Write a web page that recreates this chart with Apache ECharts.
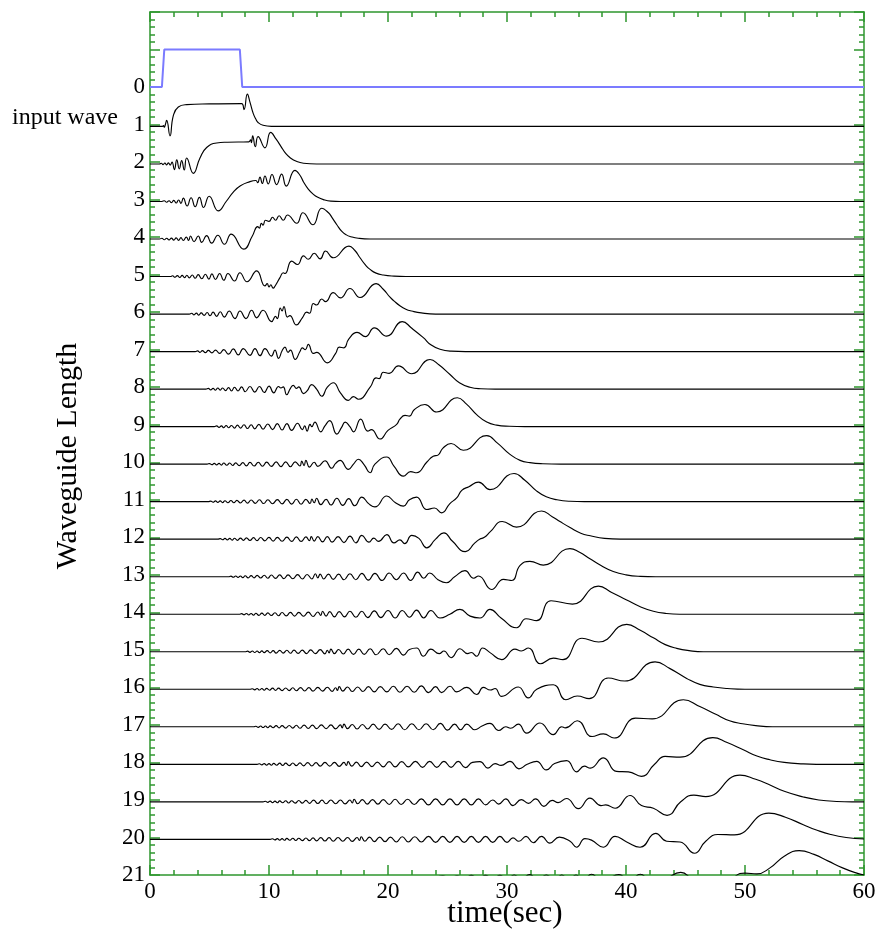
<!DOCTYPE html>
<html><head><meta charset="utf-8">
<script src="https://cdn.jsdelivr.net/npm/echarts@6/dist/echarts.min.js"></script>
<style>html,body{margin:0;padding:0;background:#fff}#c{width:881px;height:932px}</style>
</head><body><div id="c"></div>
<script>
// x (time) ticks and y (waveguide length) levels
const xTicks = [0,10,20,30,40,50,60];
const yLevels = [0,1,2,3,4,5,6,7,8,9,10,11,12,13,14,15,16,17,18,19,20,21];
const baseShift = 0.05;           // traces sit slightly below their level
// input wave: [time, amplitude]
const inputWave = [[0,0],[1.0,0],[1.2,1],[7.55,1],[7.75,0],[60,0]];
// each trace: [time, upward displacement in level units]
const trace1 = [[0,0],[1.05,0],[1.12,0.02],[1.2,-0.02],[1.28,0.04],[1.4,0.16],[1.68,-0.25],[1.96,0.29],[2.38,0.52],[3.08,0.58],[5,0.6],[7.7,0.61],[7.9,0.45],[8.18,0.86],[8.4,0.65],[8.68,0.34],[8.9,0.19],[9.1,0.1],[9.5,0.03],[10.2,0],[60,0]];
const trace2 = [[0,0],[0.8,0],[0.95,0.02],[1.1,-0.02],[1.25,0.025],[1.4,-0.025],[1.55,0.03],[1.7,-0.03],[1.85,0.05],[2.05,-0.15],[2.25,0.11],[2.46,-0.13],[2.66,0.09],[2.88,-0.16],[3.08,0.16],[3.64,-0.25],[4.2,0.16],[4.76,0.44],[5.6,0.56],[6.5,0.58],[8.3,0.59],[8.45,0.64],[8.52,0.57],[8.63,0.75],[8.85,0.46],[9.08,0.73],[9.66,0.43],[10.14,0.84],[10.6,0.66],[11.0,0.47],[11.4,0.28],[11.8,0.16],[12.3,0.07],[12.9,0.02],[14,0],[60,0]];
const trace3 = [[0,0],[1.0,0],[1.2,0.02],[1.4,-0.02],[1.6,0.02],[1.8,-0.03],[2.0,0.03],[2.2,-0.04],[2.4,0.04],[2.6,-0.05],[2.8,0.09],[3.12,-0.12],[3.45,0.1],[3.8,-0.14],[4.15,0.11],[4.5,-0.16],[4.97,0.14],[5.74,-0.25],[6.4,0.0],[7.0,0.25],[7.6,0.42],[8.4,0.53],[8.9,0.56],[9.05,0.5],[9.24,0.65],[9.44,0.48],[9.66,0.68],[9.94,0.47],[10.25,0.72],[10.64,0.45],[11.06,0.73],[11.45,0.41],[12.18,0.83],[12.6,0.7],[12.9,0.52],[13.3,0.33],[13.73,0.19],[14.1,0.11],[14.57,0.05],[15.2,0.01],[16,0],[60,0]];
const trace4 = [[0,0],[0.8,0],[1.0,0.02],[1.2,-0.02],[1.4,0.02],[1.6,-0.025],[1.8,0.025],[2.0,-0.03],[2.2,0.03],[2.4,-0.035],[2.6,0.035],[2.8,-0.04],[3.05,0.05],[3.25,-0.04],[3.4,0.08],[3.7,-0.07],[4.06,0.08],[4.34,-0.09],[4.76,0.09],[5.18,-0.11],[5.7,0.1],[6.25,-0.14],[6.82,0.13],[7.88,-0.27],[8.6,0.08],[9.05,0.33],[9.2,0.29],[9.35,0.42],[9.5,0.37],[9.7,0.5],[10.0,0.47],[10.3,0.58],[10.55,0.5],[10.85,0.62],[11.2,0.5],[11.55,0.64],[12.33,0.42],[12.85,0.7],[13.7,0.38],[14.43,0.82],[15.0,0.7],[15.3,0.57],[15.7,0.38],[16.1,0.21],[16.5,0.11],[16.9,0.06],[17.5,0.02],[18.5,0],[60,0]];
const trace5 = [[0,0],[1.7,0],[1.9,0.02],[2.1,-0.02],[2.3,0.025],[2.5,-0.025],[2.7,0.03],[2.9,-0.03],[3.1,0.035],[3.3,-0.035],[3.55,0.04],[3.8,-0.045],[4.05,0.05],[4.35,-0.06],[4.65,0.06],[4.95,-0.07],[5.2,0.07],[5.5,-0.08],[5.85,0.08],[6.2,-0.1],[6.55,0.08],[7.1,-0.12],[7.55,0.1],[8.15,-0.14],[8.96,0.15],[9.66,-0.25],[9.85,-0.19],[10.0,-0.28],[10.15,-0.22],[10.35,-0.31],[10.5,-0.26],[10.92,-0.03],[11.2,0.1],[11.35,0.08],[11.9,0.41],[12.4,0.32],[12.9,0.55],[13.3,0.46],[13.8,0.62],[14.3,0.47],[14.75,0.68],[15.4,0.5],[16.72,0.81],[17.2,0.7],[17.65,0.5],[18.1,0.31],[18.49,0.19],[19.0,0.09],[19.6,0.04],[20.5,0.01],[21.5,0],[60,0]];
const trace6 = [[0,0],[3.3,0],[3.5,0.02],[3.7,-0.02],[3.9,0.025],[4.1,-0.03],[4.3,0.03],[4.55,-0.035],[4.8,0.04],[5.05,-0.045],[5.3,0.05],[5.6,-0.06],[5.9,0.06],[6.25,-0.08],[6.65,0.08],[7.14,-0.12],[7.56,0.08],[8.06,-0.12],[8.54,0.1],[8.96,-0.1],[9.5,0.1],[10.22,-0.2],[10.55,-0.06],[10.7,-0.12],[10.95,0.16],[11.1,0.08],[11.25,0.2],[11.55,-0.08],[11.75,-0.04],[12.3,-0.29],[12.8,-0.1],[13.17,0.05],[13.4,0.02],[13.73,0.28],[14.0,0.24],[14.43,0.4],[14.75,0.33],[15.4,0.57],[16.0,0.43],[16.8,0.68],[17.65,0.44],[19.0,0.81],[19.6,0.66],[20.17,0.45],[20.5,0.35],[21.0,0.22],[21.5,0.13],[22.0,0.08],[22.8,0.03],[24,0],[60,0]];
const trace7 = [[0,0],[3.8,0],[4.0,0.02],[4.2,-0.02],[4.4,0.025],[4.65,-0.03],[4.9,0.03],[5.2,-0.035],[5.5,0.04],[5.85,-0.05],[6.2,0.05],[6.6,-0.07],[7.0,0.07],[7.42,-0.09],[7.84,0.08],[8.4,-0.1],[8.82,0.08],[9.24,-0.11],[9.66,0.08],[10.2,-0.12],[10.5,0.04],[10.8,-0.18],[11.1,0.02],[11.34,0.12],[11.6,-0.02],[11.8,0.04],[12.2,-0.21],[12.6,0.0],[12.8,0.1],[13.05,0.05],[13.3,0.19],[13.73,-0.05],[14.0,-0.02],[14.9,-0.3],[15.6,-0.05],[15.9,0.12],[16.3,0.1],[16.7,0.33],[17.4,0.51],[18.1,0.4],[18.85,0.63],[19.89,0.41],[21.2,0.8],[22.0,0.62],[22.97,0.37],[23.6,0.18],[24.37,0.06],[25.3,0.01],[26.5,0],[60,0]];
const trace8 = [[0,0],[4.7,0],[4.9,0.02],[5.1,-0.02],[5.3,0.02],[5.5,-0.03],[5.7,0.03],[5.9,-0.03],[6.1,0.03],[6.35,-0.04],[6.6,0.04],[6.85,-0.05],[7.1,0.05],[7.4,-0.05],[7.7,0.06],[8.0,-0.07],[8.4,0.07],[8.8,-0.08],[9.2,0.07],[9.6,-0.09],[10.0,0.08],[10.4,-0.1],[10.8,0.07],[11.0,0.03],[11.2,0.06],[11.48,-0.15],[11.8,0.02],[12.04,0.1],[12.3,0.02],[12.5,0.06],[12.9,-0.12],[13.2,-0.05],[13.59,0.12],[14.0,0.0],[14.43,-0.19],[14.9,0.05],[15.41,0.17],[16.0,-0.1],[16.67,-0.3],[17.1,-0.2],[17.51,-0.27],[18.5,0.05],[19.0,0.3],[19.25,0.28],[19.6,0.45],[20.1,0.42],[20.87,0.62],[21.99,0.41],[23.53,0.79],[24.3,0.64],[25.21,0.39],[26.0,0.17],[26.89,0.05],[27.8,0.01],[29,0],[60,0]];
const trace9 = [[0,0],[5.4,0],[5.6,0.02],[5.8,-0.02],[6.0,0.02],[6.2,-0.03],[6.4,0.03],[6.6,-0.03],[6.85,0.03],[7.1,-0.04],[7.35,0.04],[7.6,-0.04],[7.9,0.05],[8.2,-0.05],[8.5,0.05],[8.8,-0.06],[9.15,0.06],[9.5,-0.07],[9.9,0.07],[10.3,-0.08],[10.7,0.08],[11.1,-0.09],[11.5,0.08],[11.9,-0.1],[12.4,0.09],[12.8,-0.08],[13.0,0.02],[13.2,-0.12],[13.45,0.06],[13.6,0.0],[13.85,0.12],[14.35,-0.14],[14.7,0.02],[15.1,0.16],[15.7,-0.2],[16.1,-0.02],[16.4,0.12],[16.8,0.0],[17.1,-0.14],[17.7,0.2],[18.3,-0.12],[18.6,-0.08],[19.33,-0.33],[20.0,-0.1],[20.73,0.06],[21.0,0.2],[21.43,0.3],[21.8,0.28],[22.2,0.45],[23.1,0.59],[24.09,0.39],[25.83,0.77],[26.6,0.6],[27.45,0.32],[28.3,0.12],[29.13,0.04],[30.2,0.01],[31.5,0],[60,0]];
const trace10 = [[0,0],[4.8,0],[5.0,0.015],[5.2,-0.015],[5.4,0.02],[5.6,-0.02],[5.8,0.02],[6.0,-0.025],[6.2,0.03],[6.45,-0.03],[6.7,0.03],[6.95,-0.035],[7.2,0.035],[7.5,-0.04],[7.8,0.04],[8.1,-0.045],[8.4,0.045],[8.75,-0.05],[9.1,0.05],[9.45,-0.055],[9.8,0.055],[10.2,-0.06],[10.6,0.06],[11.0,-0.065],[11.4,0.06],[11.8,-0.07],[12.2,0.06],[12.6,-0.05],[12.75,0.08],[12.95,-0.04],[13.1,0.1],[13.4,-0.08],[13.8,0.05],[14.1,-0.06],[14.71,0.09],[15.27,-0.11],[15.6,0.02],[15.97,0.1],[16.67,-0.14],[17.1,0.0],[17.51,0.13],[18.0,-0.02],[18.49,-0.23],[18.9,0.0],[19.89,0.19],[20.5,-0.05],[21.29,-0.32],[21.9,-0.2],[22.4,-0.23],[23.25,0.05],[23.8,0.21],[24.2,0.24],[24.6,0.42],[25.3,0.55],[26.33,0.37],[28.29,0.76],[29.2,0.56],[30.25,0.26],[31.1,0.1],[31.93,0.04],[33,0.01],[34.5,0],[60,0]];
const trace11 = [[0,0],[4.9,0],[5.1,0.015],[5.3,-0.015],[5.5,0.02],[5.7,-0.02],[5.9,0.02],[6.1,-0.025],[6.3,0.025],[6.55,-0.03],[6.8,0.03],[7.05,-0.03],[7.3,0.035],[7.6,-0.035],[7.9,0.04],[8.2,-0.04],[8.5,0.045],[8.85,-0.045],[9.2,0.05],[9.55,-0.05],[9.9,0.05],[10.3,-0.055],[10.7,0.055],[11.1,-0.06],[11.5,0.06],[11.9,-0.065],[12.3,0.065],[12.7,-0.07],[13.1,0.06],[13.45,-0.05],[13.6,0.07],[13.8,-0.03],[14.0,0.09],[14.35,-0.08],[14.8,0.06],[15.2,-0.09],[15.7,0.09],[16.2,-0.1],[16.7,0.08],[17.2,-0.11],[17.8,0.12],[18.4,-0.06],[18.9,-0.14],[19.89,0.15],[20.6,-0.02],[21.29,-0.12],[21.8,0.05],[22.4,0.12],[23.25,-0.21],[23.9,-0.17],[24.5,-0.3],[25.2,-0.05],[25.77,0.1],[26.2,0.3],[26.8,0.4],[27.6,0.52],[28.57,0.32],[30.59,0.75],[31.5,0.57],[32.5,0.28],[33.3,0.13],[34.2,0.05],[35.3,0.01],[36.5,0],[60,0]];
const trace12 = [[0,0],[5.7,0],[5.9,0.015],[6.1,-0.015],[6.3,0.02],[6.5,-0.02],[6.7,0.02],[6.9,-0.025],[7.1,0.025],[7.35,-0.03],[7.6,0.03],[7.85,-0.03],[8.1,0.035],[8.4,-0.035],[8.7,0.04],[9.0,-0.04],[9.3,0.045],[9.65,-0.045],[10.0,0.05],[10.35,-0.05],[10.7,0.05],[11.1,-0.055],[11.5,0.055],[11.9,-0.06],[12.3,0.06],[12.7,-0.06],[13.1,0.06],[13.4,-0.04],[13.55,0.07],[13.8,-0.05],[14.1,0.07],[14.5,-0.07],[14.9,0.07],[15.3,-0.08],[15.8,0.07],[16.3,-0.09],[16.8,0.08],[17.3,-0.1],[17.8,0.1],[18.4,-0.08],[18.8,0.03],[19.2,-0.06],[19.9,0.12],[20.5,-0.1],[21.0,-0.02],[21.4,-0.12],[22.0,0.1],[22.6,0.02],[23.25,-0.23],[24.0,0.0],[24.7,0.17],[25.4,-0.05],[26.5,-0.33],[27.3,-0.1],[27.7,0.0],[28.1,0.05],[28.6,0.2],[29.6,0.47],[30.8,0.32],[32.91,0.75],[33.8,0.6],[34.45,0.47],[35.3,0.31],[36.2,0.16],[37.0,0.09],[38.2,0.02],[39.5,0],[60,0]];
const trace13 = [[0,0],[6.6,0],[6.8,0.015],[7.0,-0.015],[7.2,0.02],[7.4,-0.02],[7.6,0.02],[7.8,-0.025],[8.0,0.025],[8.25,-0.03],[8.5,0.03],[8.75,-0.03],[9.0,0.035],[9.3,-0.035],[9.6,0.04],[9.9,-0.04],[10.2,0.045],[10.55,-0.045],[10.9,0.05],[11.25,-0.05],[11.6,0.05],[12.0,-0.055],[12.4,0.055],[12.8,-0.06],[13.2,0.06],[13.6,-0.06],[13.9,0.08],[14.1,-0.03],[14.3,0.07],[14.6,-0.06],[15.0,0.07],[15.4,-0.07],[15.85,0.07],[16.3,-0.08],[16.8,0.08],[17.3,-0.08],[17.8,0.09],[18.35,-0.09],[18.9,0.09],[19.5,-0.1],[20.1,0.1],[20.7,-0.08],[21.3,0.1],[21.9,-0.1],[22.5,0.12],[23.0,-0.04],[23.5,0.1],[24.2,-0.08],[24.9,-0.16],[25.6,0.0],[26.47,0.16],[27.2,-0.04],[27.6,0.02],[28.71,-0.34],[29.7,-0.07],[30.4,-0.1],[31.1,0.3],[31.93,0.41],[33.05,0.31],[35.29,0.75],[36.1,0.65],[36.97,0.48],[37.9,0.3],[38.93,0.14],[40.0,0.05],[41.2,0.01],[42.5,0],[60,0]];
const trace14 = [[0,0],[7.5,0],[7.7,0.015],[7.9,-0.015],[8.1,0.02],[8.3,-0.02],[8.5,0.02],[8.7,-0.025],[8.9,0.025],[9.15,-0.03],[9.4,0.03],[9.65,-0.03],[9.9,0.035],[10.2,-0.035],[10.5,0.04],[10.8,-0.04],[11.1,0.045],[11.45,-0.045],[11.8,0.05],[12.15,-0.05],[12.5,0.05],[12.9,-0.055],[13.3,0.055],[13.7,-0.06],[14.1,0.06],[14.35,-0.03],[14.5,0.08],[14.8,-0.05],[15.1,0.07],[15.5,-0.07],[15.9,0.07],[16.35,-0.07],[16.8,0.08],[17.3,-0.08],[17.8,0.08],[18.3,-0.09],[18.85,0.09],[19.4,-0.09],[20.0,0.1],[20.6,-0.1],[21.2,0.1],[21.8,-0.08],[22.4,0.11],[23.0,-0.1],[23.6,0.1],[24.37,-0.1],[25.2,0.0],[26.05,0.13],[26.9,-0.05],[27.73,-0.1],[28.57,0.13],[29.5,-0.1],[30.81,-0.36],[31.6,-0.12],[32.49,-0.17],[33.7,0.36],[35.5,0.27],[37.68,0.75],[38.8,0.58],[40.06,0.38],[41.2,0.2],[42.3,0.08],[43.4,0.02],[44.5,0],[60,0]];
const trace15 = [[0,0],[8.0,0],[8.2,0.015],[8.4,-0.015],[8.6,0.02],[8.8,-0.02],[9.0,0.02],[9.2,-0.025],[9.4,0.025],[9.6,-0.025],[9.85,0.03],[10.1,-0.03],[10.35,0.03],[10.6,-0.035],[10.9,0.035],[11.2,-0.035],[11.5,0.04],[11.8,-0.04],[12.1,0.045],[12.45,-0.045],[12.8,0.045],[13.15,-0.05],[13.5,0.05],[13.9,-0.05],[14.3,0.055],[14.7,-0.055],[14.9,0.04],[15.05,-0.03],[15.2,0.07],[15.5,-0.05],[15.85,0.06],[16.25,-0.06],[16.65,0.07],[17.1,-0.07],[17.55,0.07],[18.0,-0.07],[18.5,0.08],[19.0,-0.08],[19.6,0.08],[20.1,-0.08],[20.7,0.09],[21.3,-0.09],[21.8,0.06],[22.41,0.1],[22.97,-0.12],[23.6,0.07],[24.3,-0.05],[24.7,0.02],[25.3,-0.16],[26.05,0.08],[26.7,-0.05],[27.0,-0.02],[27.45,-0.12],[27.95,0.1],[28.6,-0.03],[29.55,-0.21],[30.67,0.07],[31.2,0.02],[31.8,0.1],[32.8,-0.32],[33.9,-0.17],[34.7,-0.21],[36.3,0.36],[37.7,0.26],[40.06,0.73],[41.2,0.57],[42.3,0.37],[43.3,0.19],[44.26,0.09],[45.3,0.03],[46.5,0],[60,0]];
const trace16 = [[0,0],[8.4,0],[8.6,0.015],[8.8,-0.015],[9.0,0.02],[9.2,-0.02],[9.4,0.02],[9.6,-0.025],[9.8,0.025],[10.05,-0.025],[10.3,0.03],[10.55,-0.03],[10.8,0.03],[11.1,-0.035],[11.4,0.035],[11.7,-0.035],[12.0,0.04],[12.3,-0.04],[12.65,0.045],[13.0,-0.045],[13.35,0.045],[13.7,-0.05],[14.1,0.05],[14.5,-0.05],[14.9,0.055],[15.3,-0.055],[15.6,0.04],[15.75,-0.03],[15.9,0.07],[16.2,-0.05],[16.6,0.06],[17.0,-0.06],[17.45,0.06],[17.9,-0.06],[18.35,0.07],[18.85,-0.07],[19.35,0.07],[19.9,-0.07],[20.45,0.08],[21.0,-0.08],[21.6,0.08],[22.2,-0.08],[22.8,0.09],[23.4,-0.09],[24.0,0.07],[24.5,-0.09],[25.21,0.08],[25.77,-0.07],[26.61,0.05],[27.45,-0.14],[28.01,0.05],[28.6,-0.02],[29.0,0.02],[29.55,-0.19],[30.95,0.06],[31.79,-0.23],[32.5,0.0],[33.89,0.12],[34.95,-0.28],[35.9,-0.18],[36.9,-0.25],[38.5,0.3],[39.9,0.22],[42.44,0.73],[43.7,0.55],[45.1,0.29],[46.2,0.13],[47.34,0.06],[48.5,0.02],[50,0],[60,0]];
const trace17 = [[0,0],[8.7,0],[8.9,0.015],[9.1,-0.015],[9.3,0.02],[9.5,-0.02],[9.7,0.02],[9.9,-0.025],[10.1,0.025],[10.35,-0.025],[10.6,0.03],[10.85,-0.03],[11.1,0.03],[11.4,-0.035],[11.7,0.035],[12.0,-0.035],[12.3,0.04],[12.6,-0.04],[12.95,0.045],[13.3,-0.045],[13.65,0.045],[14.0,-0.05],[14.4,0.05],[14.8,-0.05],[15.2,0.05],[15.6,-0.055],[16.0,0.05],[16.15,-0.03],[16.3,0.07],[16.6,-0.05],[17.0,0.06],[17.4,-0.06],[17.85,0.06],[18.3,-0.06],[18.75,0.07],[19.25,-0.07],[19.75,0.07],[20.3,-0.07],[20.85,0.08],[21.4,-0.08],[22.0,0.08],[22.6,-0.08],[23.2,0.08],[23.8,-0.08],[24.4,0.09],[25.0,-0.09],[25.6,0.07],[26.1,-0.08],[26.61,0.07],[27.3,-0.08],[27.9,0.02],[28.57,0.09],[29.3,-0.1],[29.9,0.0],[30.3,-0.04],[30.95,0.07],[31.65,-0.17],[32.77,0.1],[33.89,-0.21],[34.6,0.0],[34.9,-0.03],[35.9,0.16],[37.15,-0.26],[38.1,-0.19],[39.0,-0.3],[40.8,0.23],[42.2,0.21],[44.82,0.72],[46.2,0.54],[47.5,0.34],[48.7,0.16],[49.8,0.08],[50.9,0.03],[52.3,0],[60,0]];
const trace18 = [[0,0],[9.0,0],[9.2,0.015],[9.4,-0.015],[9.6,0.02],[9.8,-0.02],[10.0,0.02],[10.2,-0.025],[10.4,0.025],[10.65,-0.025],[10.9,0.03],[11.15,-0.03],[11.4,0.03],[11.7,-0.035],[12.0,0.035],[12.3,-0.035],[12.6,0.04],[12.9,-0.04],[13.25,0.045],[13.6,-0.045],[13.95,0.045],[14.3,-0.05],[14.7,0.05],[15.1,-0.05],[15.5,0.05],[15.9,-0.055],[16.3,0.05],[16.5,-0.03],[16.65,0.07],[16.95,-0.05],[17.35,0.06],[17.75,-0.06],[18.2,0.06],[18.65,-0.06],[19.1,0.06],[19.6,-0.07],[20.1,0.07],[20.6,-0.07],[21.15,0.07],[21.7,-0.07],[22.3,0.08],[22.9,-0.08],[23.5,0.08],[24.1,-0.08],[24.7,0.08],[25.3,-0.08],[25.9,0.08],[26.5,-0.09],[27.1,0.05],[27.73,0.07],[28.4,-0.1],[29.0,0.02],[29.5,-0.03],[30.25,0.08],[31.0,-0.12],[31.7,0.0],[32.49,0.08],[33.3,-0.15],[34.0,0.02],[35.01,0.1],[35.85,-0.2],[36.5,-0.05],[37.0,-0.1],[38.1,0.17],[39.2,-0.19],[40.2,-0.2],[41.3,-0.32],[42.4,0.0],[43.28,0.21],[44.54,0.19],[47.3,0.71],[48.5,0.58],[49.9,0.38],[51.0,0.22],[52.1,0.12],[53.3,0.05],[54.9,0.01],[56,0],[60,0]];
const trace19 = [[0,0],[9.5,0],[9.7,0.015],[9.9,-0.015],[10.1,0.02],[10.3,-0.02],[10.5,0.02],[10.7,-0.025],[10.9,0.025],[11.15,-0.025],[11.4,0.03],[11.65,-0.03],[11.9,0.03],[12.2,-0.035],[12.5,0.035],[12.8,-0.035],[13.1,0.04],[13.4,-0.04],[13.75,0.045],[14.1,-0.045],[14.45,0.045],[14.8,-0.05],[15.2,0.05],[15.6,-0.05],[16.0,0.05],[16.4,-0.055],[16.8,0.05],[17.0,-0.03],[17.15,0.07],[17.45,-0.05],[17.85,0.06],[18.25,-0.06],[18.7,0.06],[19.15,-0.06],[19.6,0.06],[20.1,-0.07],[20.6,0.07],[21.1,-0.07],[21.65,0.07],[22.2,-0.07],[22.8,0.08],[23.4,-0.08],[24.0,0.08],[24.6,-0.08],[25.2,0.08],[25.8,-0.08],[26.4,0.08],[27.0,-0.08],[27.6,0.08],[28.2,-0.08],[28.8,0.05],[29.3,-0.06],[29.9,0.08],[30.5,-0.1],[31.2,0.06],[31.8,-0.04],[32.4,0.08],[33.1,-0.12],[33.8,0.04],[34.3,-0.02],[35.0,0.09],[36.0,-0.18],[36.97,0.1],[37.9,-0.1],[38.3,-0.08],[39.08,-0.17],[40.34,0.17],[41.3,-0.1],[42.3,-0.17],[43.45,-0.36],[44.6,0.0],[45.7,0.18],[46.7,0.14],[49.58,0.71],[50.9,0.6],[52.1,0.45],[53.3,0.28],[54.9,0.13],[56.2,0.05],[57.7,0.01],[59,0],[60,0]];
const trace20 = [[0,0],[10.1,0],[10.3,0.015],[10.5,-0.015],[10.7,0.02],[10.9,-0.02],[11.1,0.02],[11.3,-0.025],[11.5,0.025],[11.75,-0.025],[12.0,0.03],[12.25,-0.03],[12.5,0.03],[12.8,-0.035],[13.1,0.035],[13.4,-0.035],[13.7,0.04],[14.0,-0.04],[14.35,0.045],[14.7,-0.045],[15.05,0.045],[15.4,-0.05],[15.8,0.05],[16.2,-0.05],[16.6,0.05],[17.0,-0.055],[17.4,0.05],[17.6,-0.03],[17.75,0.07],[18.05,-0.05],[18.45,0.06],[18.85,-0.06],[19.3,0.06],[19.75,-0.06],[20.2,0.06],[20.7,-0.07],[21.2,0.07],[21.7,-0.07],[22.25,0.07],[22.8,-0.07],[23.4,0.08],[24.0,-0.08],[24.6,0.08],[25.2,-0.08],[25.8,0.08],[26.4,-0.08],[27.0,0.08],[27.6,-0.08],[28.2,0.08],[28.8,-0.08],[29.4,0.08],[30.0,-0.08],[30.5,0.04],[31.0,-0.05],[31.6,0.08],[32.2,-0.09],[32.9,0.08],[33.6,-0.1],[34.4,0.06],[35.3,-0.05],[35.85,-0.21],[36.55,0.02],[37.1,-0.02],[38.1,-0.21],[39.08,0.08],[40.06,-0.07],[41.18,-0.21],[42.5,0.16],[43.42,-0.05],[44.54,-0.07],[45.75,-0.37],[46.7,-0.05],[47.7,0.13],[49.1,0.12],[52.0,0.70],[53.4,0.59],[54.9,0.39],[56.0,0.25],[57.2,0.13],[58.5,0.05],[60,0.01]];
const trace21 = [[0,0],[24.0,0],[24.6,0.03],[25.2,-0.05],[25.8,0.03],[26.4,-0.05],[27.0,0.04],[27.6,-0.05],[28.2,0.04],[28.8,-0.06],[29.4,0.04],[30.0,-0.06],[30.6,0.05],[31.2,-0.06],[31.9,0.06],[32.6,-0.08],[33.3,0.05],[34.0,-0.08],[34.6,0.05],[35.2,-0.08],[35.8,0.05],[36.4,-0.1],[37.1,0.07],[38.0,-0.12],[39.4,0.06],[40.3,-0.1],[41.2,0.07],[42.3,-0.2],[43.4,-0.05],[44.6,0.12],[45.7,-0.08],[46.8,-0.15],[48.1,-0.37],[49.2,0.02],[50.0,0.1],[51.0,0.08],[52.1,0.24],[53.3,0.55],[54.55,0.70],[55.8,0.6],[57.0,0.42],[58.2,0.24],[59.2,0.12],[60,0.05]];
const traces = [trace1,trace2,trace3,trace4,trace5,trace6,trace7,trace8,trace9,trace10,trace11,trace12,trace13,trace14,trace15,trace16,trace17,trace18,trace19,trace20,trace21];

const green = '#2e962e';
const serif = '"Liberation Serif", "DejaVu Serif", serif';
function xAx(pos, labels){
  return {type:'value', position:pos, min:xTicks[0], max:xTicks[xTicks.length-1], interval:10,
    axisLine:{show:true, onZero:false, lineStyle:{color:green, width:1.5}},
    axisTick:{show:true, inside:true, length:10, lineStyle:{color:green, width:1.5}},
    minorTick:{show:true, splitNumber:5, length:5, lineStyle:{color:green, width:1.5}},
    splitLine:{show:false}, minorSplitLine:{show:false},
    axisLabel:{show:labels, color:'#000', fontFamily:serif, fontSize:23, margin:5}};
}
function yAx(pos, labels){
  return {type:'value', position:pos, inverse:true, min:-2, max:yLevels[yLevels.length-1], interval:1,
    axisLine:{show:true, onZero:false, lineStyle:{color:green, width:1.5}},
    axisTick:{show:true, inside:true, length:10, lineStyle:{color:green, width:1.5}},
    minorTick:{show:true, splitNumber:5, length:5, lineStyle:{color:green, width:1.5}},
    splitLine:{show:false}, minorSplitLine:{show:false},
    axisLabel:{show:labels, color:'#000', fontFamily:serif, fontSize:23, margin:5,
      formatter: v => (yLevels.indexOf(v) >= 0 ? String(v) : '')}};
}
const series = [{type:'line', data: inputWave.map(p => [p[0], yLevels[0] - p[1]]), showSymbol:false, symbol:'none',
  lineStyle:{color:'#7b7bff', width:2}, silent:true, z:3}];
traces.forEach((tr, i) => {
  const n = yLevels[i+1];
  series.push({type:'line', data: tr.map(p => [p[0], n + baseShift - p[1]]), smooth:0.5, showSymbol:false, symbol:'none',
    lineStyle:{color:'#000', width:1.15}, silent:true, z:2});
});
const chart = echarts.init(document.getElementById('c'), null, {renderer:'canvas', devicePixelRatio:1});
chart.setOption({
  animation:false, backgroundColor:'#fff',
  grid:{left:150, top:12, width:714, height:863, containLabel:false},
  xAxis:[xAx('bottom', true), xAx('top', false)],
  yAxis:[yAx('left', true), yAx('right', false)],
  series: series,
  graphic:[
    {type:'text', x:68, y:456, rotation:Math.PI/2, style:{text:'Waveguide Length', font:'30px ' + serif, fill:'#000', textAlign:'center', textVerticalAlign:'middle'}},
    {type:'text', x:505, y:914, style:{text:'time(sec)', font:'31px ' + serif, fill:'#000', textAlign:'center', textVerticalAlign:'middle'}},
    {type:'text', x:12, y:118, style:{text:'input wave', font:'24px ' + serif, fill:'#000', textAlign:'left', textVerticalAlign:'middle'}}
  ]
});
</script></body></html>
